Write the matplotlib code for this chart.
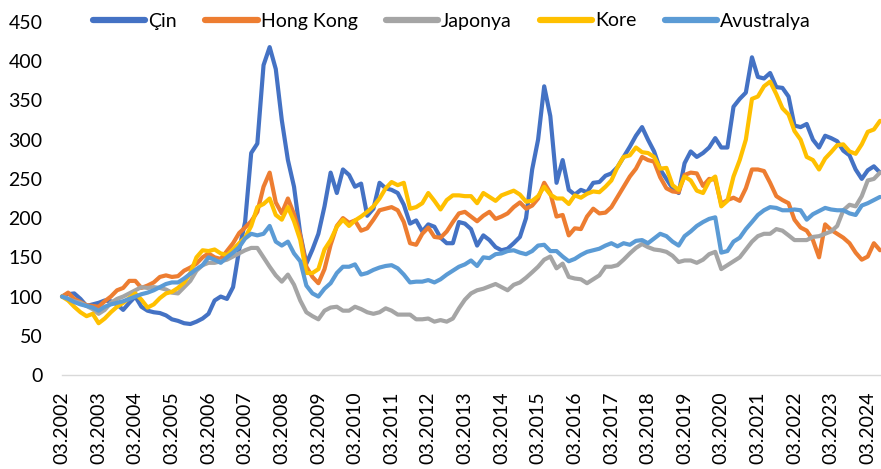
import matplotlib

matplotlib.use("Agg")

import matplotlib.dates as mdates
import matplotlib.pyplot as plt
import pandas as pd

# bi-monthly observations, 03.2002 .. 07.2024
DATES = pd.date_range("2002-03-01", periods=135, freq="2MS")
YEAR_TICKS = pd.date_range("2002-03-01", "2024-03-01", freq="12MS")

CIN = [
    100, 103, 104, 97, 88, 90, 92, 95, 94, 90, 83, 92, 100, 87, 82, 80, 79, 76, 71, 69,
    66, 65, 68, 72, 78, 95, 100, 97, 112, 160, 195, 283, 295, 395, 418, 390, 325, 274, 240, 180,
    142, 160, 180, 215, 258, 232, 262, 255, 240, 244, 203, 212, 245, 238, 236, 232, 217, 193, 197, 183,
    192, 189, 175, 168, 168, 195, 193, 186, 165, 178, 172, 163, 159, 161, 168, 176, 200, 262, 300, 368,
    330, 245, 274, 236, 230, 236, 233, 245, 246, 254, 257, 265, 278, 291, 305, 316, 300, 285, 262, 250,
    238, 232, 270, 285, 278, 283, 290, 302, 290, 290, 342, 352, 360, 405, 380, 378, 385, 367, 366, 355,
    318, 316, 320, 300, 290, 305, 302, 298, 286, 280, 262, 250, 261, 266, 258,
]
HONG_KONG = [
    100, 105, 97, 93, 89, 88, 87, 94, 100, 108, 111, 120, 120, 111, 114, 118, 125, 127, 125, 126,
    133, 137, 142, 150, 155, 150, 148, 158, 168, 181, 188, 196, 208, 240, 258, 220, 206, 225, 205, 178,
    138, 125, 117, 135, 166, 190, 200, 194, 197, 184, 187, 198, 210, 212, 214, 210, 195, 168, 166, 180,
    188, 176, 175, 183, 195, 206, 208, 202, 196, 203, 208, 199, 202, 206, 214, 220, 212, 216, 225, 245,
    232, 202, 204, 178, 187, 186, 202, 212, 206, 207, 214, 227, 240, 253, 263, 278, 274, 272, 252, 238,
    234, 233, 255, 258, 257, 241, 250, 249, 218, 223, 226, 222, 238, 262, 262, 260, 245, 228, 223, 219,
    198, 188, 184, 172, 150, 192, 185, 180, 175, 168, 156, 147, 151, 168, 159,
]
JAPONYA = [
    100, 97, 94, 92, 88, 84, 78, 83, 92, 97, 100, 104, 108, 112, 111, 112, 111, 109, 105, 104,
    112, 120, 133, 140, 143, 143, 145, 147, 151, 155, 159, 162, 162, 150, 138, 127, 119, 128, 115, 95,
    80, 75, 71, 82, 86, 87, 82, 82, 87, 84, 80, 78, 80, 85, 82, 77, 77, 77, 71, 71,
    72, 68, 70, 68, 72, 85, 96, 104, 108, 110, 113, 116, 112, 108, 115, 118, 124, 131, 138, 147,
    151, 136, 142, 125, 123, 122, 117, 122, 127, 138, 138, 140, 147, 155, 162, 167, 163, 160, 159, 157,
    152, 144, 146, 146, 143, 147, 154, 157, 135, 140, 145, 150, 160, 170, 177, 180, 180, 186, 184, 178,
    172, 172, 172, 176, 177, 180, 183, 190, 210, 217, 215, 228, 248, 250, 258,
]
KORE = [
    100, 95, 87, 80, 75, 78, 66, 72, 80, 87, 92, 98, 104, 96, 86, 90, 98, 104, 106, 111,
    118, 130, 150, 159, 158, 160, 155, 153, 160, 168, 175, 190, 214, 218, 225, 204, 198, 214, 196, 172,
    130, 130, 135, 160, 172, 189, 198, 190, 197, 202, 208, 215, 225, 238, 246, 242, 245, 212, 214, 219,
    232, 222, 211, 223, 229, 229, 228, 228, 219, 232, 227, 222, 229, 232, 235, 230, 221, 222, 228, 240,
    230, 225, 225, 218, 229, 226, 231, 234, 233, 240, 248, 265, 278, 280, 290, 284, 283, 278, 263, 264,
    242, 236, 253, 248, 235, 232, 247, 253, 215, 222, 253, 274, 300, 352, 355, 368, 374, 358, 340, 332,
    311, 300, 278, 274, 262, 276, 284, 293, 294, 285, 282, 294, 310, 313, 324,
]
AVUSTRALYA = [
    100, 97, 93, 90, 88, 86, 82, 87, 90, 92, 94, 97, 100, 103, 105, 108, 112, 116, 118, 118,
    123, 129, 135, 140, 150, 147, 143, 150, 156, 163, 174, 180, 178, 180, 190, 170, 165, 170, 155, 145,
    114, 104, 100, 110, 117, 130, 138, 138, 141, 128, 130, 134, 137, 139, 140, 136, 128, 118, 119, 119,
    121, 118, 122, 128, 133, 138, 141, 146, 139, 150, 149, 154, 155, 158, 159, 156, 154, 158, 165, 166,
    158, 158, 151, 145, 148, 153, 157, 159, 161, 165, 168, 164, 168, 166, 171, 172, 168, 174, 180, 177,
    170, 165, 177, 183, 190, 195, 199, 201, 156, 158, 170, 175, 186, 195, 204, 210, 214, 213, 210, 210,
    211, 210, 198, 205, 209, 213, 211, 210, 210, 206, 204, 216, 219, 223, 227,
]

SERIES = [
    ("Çin", CIN, "#4472C4"),
    ("Hong Kong", HONG_KONG, "#ED7D31"),
    ("Japonya", JAPONYA, "#A5A5A5"),
    ("Kore", KORE, "#FFC000"),
    ("Avustralya", AVUSTRALYA, "#5B9BD5"),
]

FONT = "Lato"
FS = 14

fig = plt.figure(figsize=(8.81, 4.69), dpi=100)
ax = fig.add_axes([62 / 881, 94 / 469, 818 / 881, 353 / 469])

for label, values, color in SERIES:
    ax.plot(DATES, values, color=color, lw=3.0, label=label,
            solid_capstyle="round", solid_joinstyle="round", clip_on=False)

ax.set_xlim(DATES[0], DATES[-1])
ax.set_ylim(0, 450)
ax.set_yticks(range(0, 451, 50))
ax.set_xticks(YEAR_TICKS)
ax.xaxis.set_major_formatter(mdates.DateFormatter("%m.%Y"))
ax.tick_params(axis="x", length=0, pad=12, rotation=90, labelsize=FS)
ax.tick_params(axis="y", length=0, pad=14, labelsize=FS)
for lab in ax.get_xticklabels() + ax.get_yticklabels():
    lab.set_fontfamily(FONT)

for side in ("top", "right", "left"):
    ax.spines[side].set_visible(False)
ax.spines["bottom"].set_color("#D9D9D9")
ax.spines["bottom"].set_linewidth(1.0)

leg = fig.legend(
    loc="center",
    bbox_to_anchor=(452 / 881, 1 - 21 / 469),
    ncol=5,
    frameon=False,
    prop={"family": FONT, "size": FS},
    handlelength=2.7,
    handletextpad=0.15,
    columnspacing=1.45,
    borderaxespad=0.0,
)
for line in leg.get_lines():
    line.set_linewidth(4.5)
    line.set_solid_capstyle("round")

fig.savefig("out.png", dpi=100)
